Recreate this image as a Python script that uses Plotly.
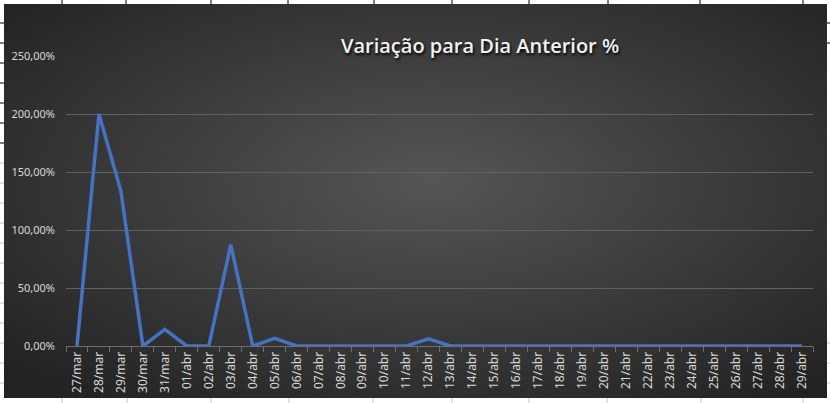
import base64, struct, zlib
import numpy as np
import plotly.graph_objects as go

# ---------------- data ----------------
categories = ["27/mar", "28/mar", "29/mar", "30/mar", "31/mar"] + [f"{d:02d}/abr" for d in range(1, 30)]
variation = [0.0, 2.0, 1.3333, 0.0, 0.1429, 0.0, 0.0, 0.875, 0.0, 0.0667,
             0.0, 0.0, 0.0, 0.0, 0.0, 0.0, 0.0625, 0.0, 0.0, 0.0,
             0.0, 0.0, 0.0, 0.0, 0.0, 0.0, 0.0, 0.0, 0.0, 0.0,
             0.0, 0.0, 0.0, 0.0]
y_ticks = [0, 0.5, 1.0, 1.5, 2.0, 2.5]
title_text = "Variação para Dia Anterior %"

# ---------------- layout geometry (pixels) ----------------
W, H = 830, 403
L, R, T, B = 66, 813, 56, 346  # plot area

def px(x):
    return (x - L) / (R - L)

def py(y):
    return (B - y) / (B - T)

# chart-area radial gradient as PNG data URI
cx0, cy0, cx1, cy1 = 4, 4, 827, 398
gw, gh = cx1 - cx0, cy1 - cy0
xs = np.arange(gw)[None, :]
ys = np.arange(gh)[:, None]
ccx, ccy = gw * 0.52, gh * 0.45
d = np.sqrt(((xs - ccx) / (gw / 2)) ** 2 + ((ys - ccy) / (gh / 2)) ** 2) / np.sqrt(2)
d = np.clip(d, 0, 1)
val = (0x56 + (0x22 - 0x56) * d).astype(np.uint8)
raw = b"".join(b"\x00" + np.repeat(row[:, None], 3, axis=1).tobytes() for row in val)

def chunk(tag, data):
    c = struct.pack(">I", len(data)) + tag + data
    return c + struct.pack(">I", zlib.crc32(tag + data) & 0xffffffff)

png = b"\x89PNG\r\n\x1a\n" + chunk(b"IHDR", struct.pack(">IIBBBBB", gw, gh, 8, 2, 0, 0, 0)) \
      + chunk(b"IDAT", zlib.compress(raw, 9)) + chunk(b"IEND", b"")
bg_uri = "data:image/png;base64," + base64.b64encode(png).decode()

fig = go.Figure()
fig.add_trace(go.Scatter(
    x=categories, y=variation, mode="lines",
    line=dict(color="#4472C4", width=3.5),
    hoverinfo="x+y", showlegend=False,
))

ytick_font = dict(family="Noto Sans", size=11, color="#d9d9d9")
xtick_font = dict(family="Noto Sans", size=12, color="#d9d9d9")

# Excel sheet grid lines around the chart
shapes = []
for yy in [23, 43, 63, 83, 103, 123, 143]:
    shapes.append(dict(type="line", xref="paper", yref="paper", x0=px(0), x1=px(4), y0=py(yy), y1=py(yy),
                       line=dict(color="#000000", width=1)))
for yy in [163, 183, 203, 223, 243, 263, 283, 303, 323, 343, 363, 383]:
    shapes.append(dict(type="line", xref="paper", yref="paper", x0=px(0), x1=px(4), y0=py(yy), y1=py(yy),
                       line=dict(color="#c8c8c8", width=1)))
for xx in [62, 126, 211, 288, 374, 452, 529, 608, 700, 803]:
    shapes.append(dict(type="line", xref="paper", yref="paper", x0=px(xx), x1=px(xx), y0=py(0), y1=py(4),
                       line=dict(color="#000000", width=1)))
for xx in [62, 127, 211, 289, 373, 452, 529, 607, 701, 803]:
    shapes.append(dict(type="line", xref="paper", yref="paper", x0=px(xx), x1=px(xx), y0=py(398), y1=py(403),
                       line=dict(color="#c8c8c8", width=1)))
for yy in [23, 43]:
    shapes.append(dict(type="line", xref="paper", yref="paper", x0=px(827), x1=px(830), y0=py(yy), y1=py(yy),
                       line=dict(color="#000000", width=1)))
for yy in [343, 363, 383]:
    shapes.append(dict(type="line", xref="paper", yref="paper", x0=px(827), x1=px(830), y0=py(yy), y1=py(yy),
                       line=dict(color="#c8c8c8", width=1)))

fig.update_layout(
    width=W, height=H,
    margin=dict(l=L, r=W - R, t=T, b=H - B, pad=0, autoexpand=False),
    paper_bgcolor="#ffffff",
    plot_bgcolor="rgba(0,0,0,0)",
    separators=",.",
    images=[dict(source=bg_uri, xref="paper", yref="paper",
                 x=px(cx0), y=py(cy0), sizex=px(cx1) - px(cx0), sizey=py(cy0) - py(cy1),
                 xanchor="left", yanchor="top", sizing="stretch", layer="below")],
    shapes=shapes,
    annotations=[dict(text=title_text, xref="paper", yref="paper", x=px(480), y=py(46),
                      xanchor="center", yanchor="middle", showarrow=False,
                      font=dict(family="Open Sans", size=20, color="#f2f2f2", weight=600,
                                shadow="1px 2px 3px #000000"))],
    xaxis=dict(
        type="category", range=[-0.5, len(categories) - 0.5], automargin=False,
        tickangle=-90, tickfont=xtick_font, tickson="boundaries",
        ticks="outside", ticklen=5, tickcolor="#6e6e6e",
        showline=True, linecolor="#6e6e6e", linewidth=1,
        showgrid=False, zeroline=False, fixedrange=True,
    ),
    yaxis=dict(
        range=[0, 2.5], tickvals=y_ticks, tickformat=".2%", automargin=False,
        tickfont=ytick_font, showgrid=True, gridcolor="#616161", gridwidth=1,
        zeroline=False, showline=False, ticks="", ticklabelstandoff=10, fixedrange=True,
    ),
)

fig.write_html("out.html", config={"displayModeBar": False},
               post_script="document.body.style.margin='0';document.body.style.overflow='hidden';")
